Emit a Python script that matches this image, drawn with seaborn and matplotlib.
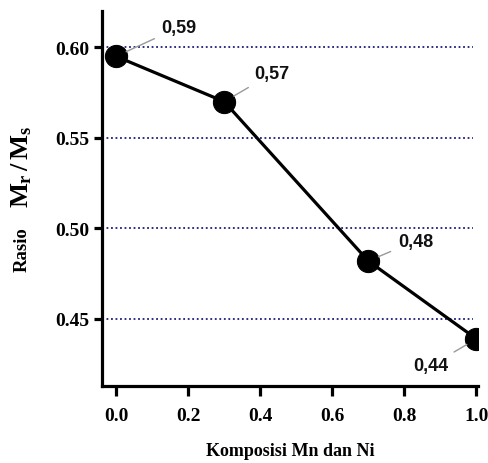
import matplotlib
matplotlib.use("Agg")
import matplotlib.pyplot as plt
import seaborn as sns
import pandas as pd

komposisi = [0.0, 0.3, 0.7, 1.0]
rasio = [0.595, 0.570, 0.482, 0.439]
labels = ["0,59", "0,57", "0,48", "0,44"]
y_ticks = [0.45, 0.50, 0.55, 0.60]
x_ticks = [0.0, 0.2, 0.4, 0.6, 0.8, 1.0]

sns.set_theme(style="white")
plt.rcParams['font.family'] = ['Liberation Serif', 'DejaVu Serif']
plt.rcParams['text.color'] = 'black'
plt.rcParams['mathtext.fontset'] = 'custom'
plt.rcParams['mathtext.rm'] = 'Liberation Serif:bold'
plt.rcParams['mathtext.bf'] = 'Liberation Serif:bold'
plt.rcParams['mathtext.it'] = 'Liberation Serif:bold'

df = pd.DataFrame({"x": komposisi, "y": rasio})

fig = plt.figure(figsize=(4.88, 4.64), dpi=100)
ax = fig.add_axes([0.209, 0.166, 0.771, 0.808])

for yt in y_ticks:
    ax.axhline(yt, xmin=0.0, xmax=0.987, color="#1c1c7a", linestyle=(0, (1, 1.5)),
               linewidth=1.3, zorder=1)

sns.lineplot(data=df, x="x", y="y", ax=ax, color="black", linewidth=2.3,
             marker="o", markersize=16, markerfacecolor="black",
             markeredgecolor="black", zorder=3)

ax.set_xlim(-0.039, 1.005)
ax.set_ylim(0.413, 0.620)
ax.set_xticks(x_ticks)
ax.set_xticklabels([f"{v:.1f}" for v in x_ticks])
ax.set_yticks(y_ticks)
ax.set_yticklabels([f"{v:.2f}" for v in y_ticks])

for s in ["top", "right"]:
    ax.spines[s].set_visible(False)
for s in ["left", "bottom"]:
    ax.spines[s].set_linewidth(2.3)
    ax.spines[s].set_color("black")

ax.tick_params(axis="x", direction="out", length=7, width=2.3, pad=8,
               labelsize=14, bottom=True, colors="black")
ax.tick_params(axis="y", direction="out", length=6, width=2.3, pad=3,
               labelsize=14, left=True, colors="black")
for t in ax.get_xticklabels() + ax.get_yticklabels():
    t.set_fontweight("bold")

ax.set_xlabel("")
ax.set_ylabel("")
fig.text(0.594, 0.026, "Komposisi Mn dan Ni", ha="center", va="center",
         fontsize=13, fontweight="bold", color="black")
fig.text(0.045, 0.461, "Rasio", rotation=90, ha="center", va="center",
         fontsize=13.5, fontweight="bold", color="black")
fig.text(0.045, 0.640, r"$M_r\,/\,M_s$", rotation=90, ha="center",
         va="center", fontsize=19, color="black")

offsets = [(63, 29), (48, 28), (47, 20), (-46, -27)]
for x, y, lab, off in zip(komposisi, rasio, labels, offsets):
    ax.annotate(lab, xy=(x, y), xytext=off, textcoords="offset pixels",
                ha="center", va="center", fontsize=13, fontweight="bold",
                family=["Liberation Sans", "DejaVu Sans"], color="#111111",
                arrowprops=dict(arrowstyle="-", color="#999999", lw=1.0,
                                shrinkA=3, shrinkB=8))

fig.savefig("out.png", dpi=100)
